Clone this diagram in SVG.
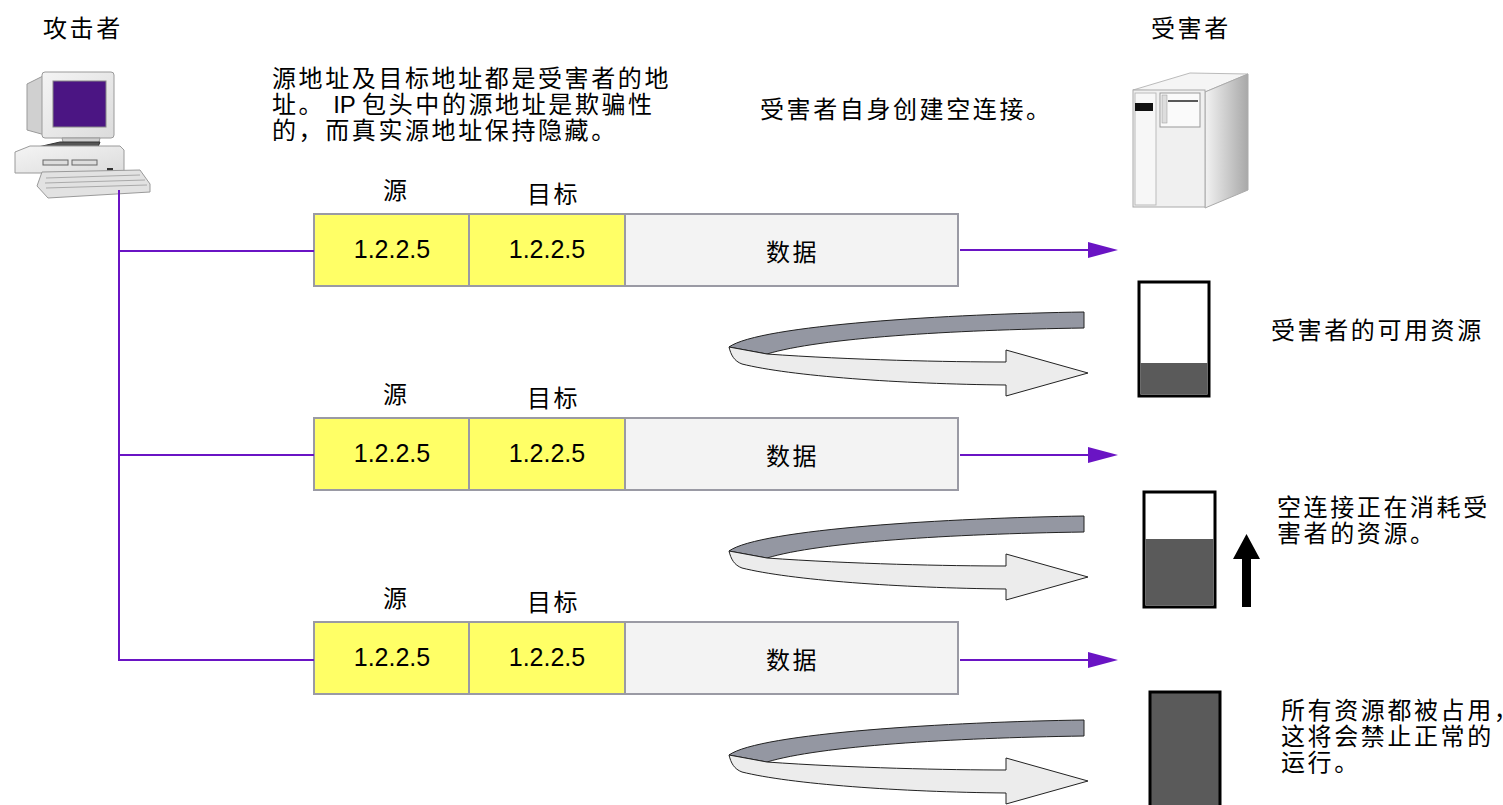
<svg xmlns="http://www.w3.org/2000/svg" width="1503" height="805" viewBox="0 0 1503 805">
  <style>
    .t { font-family: "Noto Sans CJK SC", "Liberation Sans", sans-serif; font-size: 24px; fill: #000; letter-spacing: 2.6px; }
    .lat { font-family: "Liberation Sans", Arial, sans-serif; letter-spacing: 0; }
    .ip { font-family: "Liberation Sans", Arial, sans-serif; font-size: 25px; fill: #000; text-anchor: middle; }
    .addr { fill: #ffff66; stroke: #9a9aa4; stroke-width: 2; }
    .data { fill: #f3f3f3; stroke: #9a9aa4; stroke-width: 2; }
    .wire { stroke: #6a14c4; stroke-width: 2; fill: none; }
    .band { fill: #9497a2; stroke: #222; stroke-width: 1; }
    .back { fill: #ececec; stroke: #222; stroke-width: 1; }
    .gauge { fill: #fff; stroke: #000; stroke-width: 3; }
    .used { fill: #5a5a5a; }
  </style>
  <defs>
    <marker id="head" viewBox="0 0 30 16" refX="0" refY="8" markerWidth="30" markerHeight="16" markerUnits="userSpaceOnUse" orient="auto">
      <path d="M0,0 L30,8 L0,16 Z" fill="#6a14c4"/>
    </marker>
    <linearGradient id="side" x1="0" y1="0" x2="1" y2="0">
      <stop offset="0" stop-color="#f2f2f2"/>
      <stop offset="1" stop-color="#a8a8a8"/>
    </linearGradient>
    <linearGradient id="front" x1="0" y1="0" x2="1" y2="1">
      <stop offset="0" stop-color="#f4f4f4"/>
      <stop offset="1" stop-color="#dcdcdc"/>
    </linearGradient>
    <g id="loop">
      <path class="band" d="M1084,312 L1084,328 C950,330 820,338 767,354 L729,347 C760,325 950,314 1084,312 Z"/>
      <path class="back" d="M729,347 L767,354 C850,360 950,362 1006,362 L1006,350 L1088,373 L1006,396 L1006,385 C900,384 790,376 742,364 C734,361 731,355 729,347 Z"/>
    </g>
  </defs>

  <!-- titles -->
  <text class="t" x="43" y="37">攻击者</text>
  <text class="t" x="1151" y="37">受害者</text>

  <!-- attacker workstation -->
  <g id="attacker">
    <path d="M27,84 L45,75 L45,135 L27,130 Z" fill="#d0d0d0" stroke="#9a9a9a"/>
    <rect x="42" y="72" width="72" height="66" rx="3" fill="url(#front)" stroke="#9a9a9a"/>
    <rect x="53" y="81" width="53" height="46" fill="#4b1583" stroke="#888"/>
    <path d="M62,138 L100,138 L98,146 L64,146 Z" fill="#cfcfcf" stroke="#999"/>
    <path d="M38,147 L60,142 L100,142 L96,152 L42,152 Z" fill="#555" stroke="#333"/>
    <path d="M15,152 L30,146 L120,146 L124,150 L124,173 L15,173 Z" fill="url(#front)" stroke="#9a9a9a"/>
    <rect x="43" y="160" width="25" height="5" fill="#ddd" stroke="#666"/>
    <rect x="72" y="160" width="25" height="5" fill="#ddd" stroke="#666"/>
    <rect x="107" y="168" width="6" height="3" fill="#333"/>
    <path d="M42,172 L140,170 L150,184 L150,192 L48,198 L37,186 Z" fill="#e2e2e2" stroke="#9a9a9a"/>
    <path d="M46,178 L140,175 M45,183 L145,180 M46,188 L147,185" stroke="#aaa" stroke-width="1"/>
  </g>

  <!-- victim server -->
  <g id="victim">
    <path d="M1133,90 L1190,73 L1248,74 L1205,92 Z" fill="#f5f5f5" stroke="#bbb"/>
    <path d="M1205,92 L1248,74 L1248,190 L1205,208 Z" fill="url(#side)" stroke="#aaa"/>
    <rect x="1133" y="90" width="72" height="117" fill="#f0f0f0" stroke="#aaa"/>
    <rect x="1135" y="93" width="21" height="112" fill="#f7f7f7" stroke="#bbb"/>
    <rect x="1135" y="103" width="18" height="8" fill="#111"/>
    <rect x="1160" y="93" width="40" height="34" fill="#fafafa" stroke="#999"/>
    <rect x="1162" y="95" width="5" height="28" fill="#ddd" stroke="#999" stroke-width="0.5"/>
    <path d="M1168,101 L1198,101" stroke="#222" stroke-width="1.5"/>
  </g>

  <!-- source / destination labels -->
  <g id="labels">
    <text class="t" x="383" y="199">源</text>
    <text class="t" x="527" y="203">目标</text>
    <text class="t" x="383" y="403">源</text>
    <text class="t" x="527" y="407">目标</text>
    <text class="t" x="383" y="607">源</text>
    <text class="t" x="527" y="611">目标</text>
  </g>

  <!-- notes -->
  <g id="notes">
    <text class="t" x="272" y="87">源地址及目标地址都是受害者的地</text>
    <text class="t" x="272" y="113">址。 <tspan class="lat">IP </tspan>包头中的源地址是欺骗性</text>
    <text class="t" x="272" y="139">的，而真实源地址保持隐藏。</text>
    <text class="t" x="760" y="118">受害者自身创建空连接。</text>
    <text class="t" x="1271" y="339">受害者的可用资源</text>
    <text class="t" x="1277" y="516">空连接正在消耗受</text>
    <text class="t" x="1277" y="542">害者的资源。</text>
    <text class="t" x="1281" y="719" letter-spacing="2">所有资源都被占用，</text>
    <text class="t" x="1281" y="745">这将会禁止正常的</text>
    <text class="t" x="1281" y="771">运行。</text>
  </g>

  <!-- packet 1 -->
  <g id="packet1">
    <rect class="addr" x="314" y="214" width="155" height="72"/>
    <rect class="addr" x="469" y="214" width="156" height="72"/>
    <rect class="data" x="625" y="214" width="333" height="72"/>
    <text class="ip" x="392" y="258">1.2.2.5</text>
    <text class="ip" x="547" y="258">1.2.2.5</text>
    <text class="t" x="766" y="261">数据</text>
  </g>

  <!-- packet 2 -->
  <g id="packet2">
    <rect class="addr" x="314" y="418" width="155" height="72"/>
    <rect class="addr" x="469" y="418" width="156" height="72"/>
    <rect class="data" x="625" y="418" width="333" height="72"/>
    <text class="ip" x="392" y="462">1.2.2.5</text>
    <text class="ip" x="547" y="462">1.2.2.5</text>
    <text class="t" x="766" y="465">数据</text>
  </g>

  <!-- packet 3 -->
  <g id="packet3">
    <rect class="addr" x="314" y="622" width="155" height="72"/>
    <rect class="addr" x="469" y="622" width="156" height="72"/>
    <rect class="data" x="625" y="622" width="333" height="72"/>
    <text class="ip" x="392" y="666">1.2.2.5</text>
    <text class="ip" x="547" y="666">1.2.2.5</text>
    <text class="t" x="766" y="669">数据</text>
  </g>

  <!-- connectors -->
  <g id="connectors">
    <path class="wire" d="M119,190 L119,660 L314,660 M119,251 L314,251 M119,455 L314,455"/>
    <path class="wire" d="M960,250 L1088,250" marker-end="url(#head)"/>
    <path class="wire" d="M960,455 L1088,455" marker-end="url(#head)"/>
    <path class="wire" d="M960,660 L1088,660" marker-end="url(#head)"/>
  </g>

  <!-- half-open connection loops -->
  <g id="loops">
    <use href="#loop"/>
    <use href="#loop" y="204"/>
    <use href="#loop" y="408"/>
  </g>

  <!-- resource gauges -->
  <g id="gauge1">
    <rect class="gauge" x="1139" y="282" width="70" height="114"/>
    <rect class="used" x="1140.5" y="363" width="67" height="31.5"/>
  </g>
  <g id="gauge2">
    <rect class="gauge" x="1144" y="492" width="71" height="115"/>
    <rect class="used" x="1145.5" y="539" width="68" height="66.5"/>
    <path d="M1242,607 L1242,559 L1233,559 L1246.5,534 L1260,559 L1251,559 L1251,607 Z" fill="#000"/>
  </g>
  <g id="gauge3">
    <rect class="gauge used" x="1150" y="692" width="70" height="130"/>
  </g>
</svg>
